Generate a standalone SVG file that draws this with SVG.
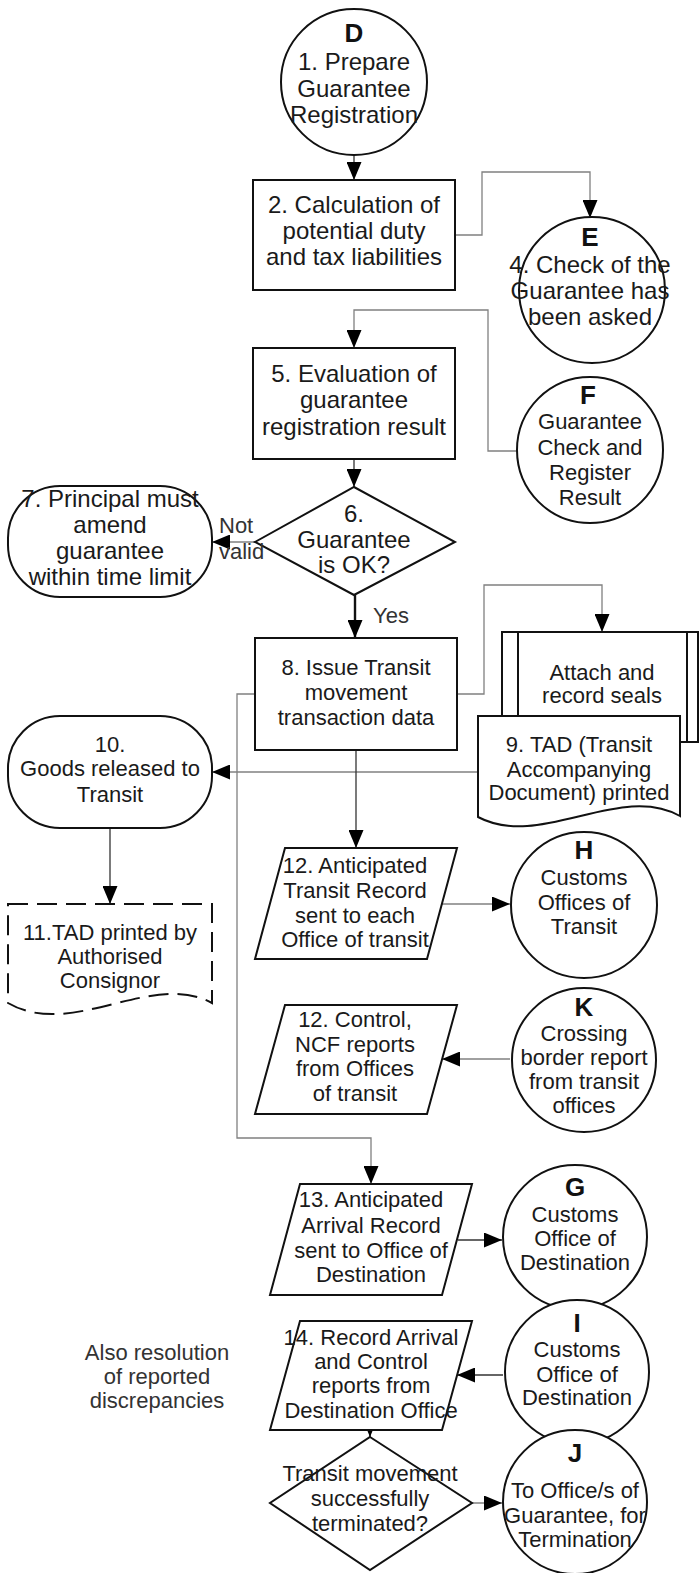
<svg xmlns="http://www.w3.org/2000/svg" width="699" height="1573" viewBox="0 0 699 1573">
<style>
text{font-family:"Liberation Sans",Arial,sans-serif;fill:#1a1a1a;text-anchor:middle}
.t24{font-size:24px}
.t22{font-size:22px}
.lbl{font-size:22px;fill:#333}
.big{font-size:26px;font-weight:bold;fill:#111}
.shp{fill:#fff;stroke:#111;stroke-width:2}
.dash{fill:#fff;stroke:#111;stroke-width:2;stroke-dasharray:20 9}
.cg{fill:none;stroke:#808080;stroke-width:1.3}
.cd{fill:none;stroke:#333;stroke-width:1.3}
.cb{fill:none;stroke:#111;stroke-width:2.4}
</style>
<defs>
<marker id="ah" viewBox="0 0 18 15" refX="18" refY="7.5" markerWidth="18" markerHeight="15" markerUnits="userSpaceOnUse" orient="auto"><path d="M0,0 L18,7.5 L0,15 z" fill="#000"/></marker>
</defs>
<rect width="699" height="1573" fill="#fff"/>

<g id="connectors">
<path class="cd" d="M354,133 V180" marker-end="url(#ah)"/>
<path class="cg" d="M455,235 H482 V172 H590 V218" marker-end="url(#ah)"/>
<path class="cg" d="M517,451 H488 V310 H354 V348" marker-end="url(#ah)"/>
<path class="cd" d="M354,440 V487" marker-end="url(#ah)"/>
<path class="cg" d="M255,542 H212" marker-end="url(#ah)"/>
<path class="cb" d="M355,595 V638" marker-end="url(#ah)"/>
<path class="cg" d="M457,694 H484 V585 H602 V632" marker-end="url(#ah)"/>
<path class="cg" d="M255,694 H237 V1138 H371 V1184" marker-end="url(#ah)"/>
<path class="cg" d="M478,772 H212" marker-end="url(#ah)"/>
<path class="cd" d="M110,828 V904" marker-end="url(#ah)"/>
<path class="cd" d="M356,750 V848" marker-end="url(#ah)"/>
<path class="cg" d="M442,904 H510" marker-end="url(#ah)"/>
<path class="cg" d="M510,1059 H442" marker-end="url(#ah)"/>
<path class="cd" d="M458,1240 H502" marker-end="url(#ah)"/>
<path class="cd" d="M503,1375 H457" marker-end="url(#ah)"/>
<path class="cd" d="M370,1395 V1455"/>
<path class="cd" d="M370,1400 V1437" marker-end="url(#ah)"/>
<path class="cg" d="M455,1503 H502" marker-end="url(#ah)"/>
</g>

<g id="nD">
<circle class="shp" cx="354" cy="82" r="73"/>
<text class="big" x="354" y="42">D</text>
<text class="t24" x="354" y="70">1. Prepare</text>
<text class="t24" x="354" y="96.5">Guarantee</text>
<text class="t24" x="354" y="123">Registration</text>
</g>

<g id="n2">
<rect class="shp" x="253" y="180" width="202" height="110"/>
<text class="t24" x="354" y="213">2. Calculation of</text>
<text class="t24" x="354" y="239">potential duty</text>
<text class="t24" x="354" y="265">and tax liabilities</text>
</g>

<g id="nE">
<circle class="shp" cx="592" cy="290" r="73"/>
<text class="big" x="590" y="246">E</text>
<text class="t24" x="590" y="273">4. Check of the</text>
<text class="t24" x="590" y="299">Guarantee has</text>
<text class="t24" x="590" y="325">been asked</text>
</g>

<g id="nF">
<circle class="shp" cx="590" cy="450" r="73"/>
<text class="big" x="588" y="404">F</text>
<text class="t22" x="590" y="429">Guarantee</text>
<text class="t22" x="590" y="455">Check and</text>
<text class="t22" x="590" y="480">Register</text>
<text class="t22" x="590" y="505">Result</text>
</g>

<g id="n5">
<rect class="shp" x="253" y="348" width="202" height="111"/>
<text class="t24" x="354" y="382">5. Evaluation of</text>
<text class="t24" x="354" y="408">guarantee</text>
<text class="t24" x="354" y="435">registration result</text>
</g>

<g id="n6">
<polygon class="shp" points="354,487 455,542 354,595 255,542"/>
<text class="t24" x="354" y="522">6.</text>
<text class="t24" x="354" y="548">Guarantee</text>
<text class="t24" x="354" y="573">is OK?</text>
</g>

<g id="n7">
<rect class="shp" x="8" y="486" width="204" height="111" rx="52" ry="52"/>
<text class="t24" x="110" y="507">7. Principal must</text>
<text class="t24" x="110" y="533">amend</text>
<text class="t24" x="110" y="559">guarantee</text>
<text class="t24" x="110" y="585">within time limit</text>
</g>

<g id="labels">
<text class="lbl" x="219" y="533" style="text-anchor:start">Not</text>
<text class="lbl" x="219" y="559" style="text-anchor:start">valid</text>
<text class="lbl" x="373" y="623" style="text-anchor:start">Yes</text>
<text class="lbl" x="157" y="1360">Also resolution</text>
<text class="lbl" x="157" y="1384">of reported</text>
<text class="lbl" x="157" y="1408">discrepancies</text>
</g>

<g id="n8">
<rect class="shp" x="255" y="638" width="202" height="112"/>
<text class="t22" x="356" y="675">8. Issue Transit</text>
<text class="t22" x="356" y="700">movement</text>
<text class="t22" x="356" y="725">transaction data</text>
</g>

<g id="nSeals">
<rect class="shp" x="502" y="632" width="196" height="110"/>
<line class="shp" x1="518" y1="632" x2="518" y2="742"/>
<line class="shp" x1="687" y1="632" x2="687" y2="742"/>
<text class="t22" x="602" y="680">Attach and</text>
<text class="t22" x="602" y="703">record seals</text>
</g>

<g id="n9">
<path class="shp" d="M478,716 H680 V816 C620,782 540,850 478,817 Z"/>
<text class="t22" x="579" y="752">9. TAD (Transit</text>
<text class="t22" x="579" y="777">Accompanying</text>
<text class="t22" x="579" y="800">Document) printed</text>
</g>

<g id="n10">
<rect class="shp" x="8" y="716" width="204" height="112" rx="52" ry="52"/>
<text class="t22" x="110" y="752">10.</text>
<text class="t22" x="110" y="776">Goods released to</text>
<text class="t22" x="110" y="802">Transit</text>
</g>

<g id="n11">
<path class="dash" d="M8,904 H212 V1003 C152,970 72,1040 8,1003 Z"/>
<text class="t22" x="110" y="940">11.TAD printed by</text>
<text class="t22" x="110" y="964">Authorised</text>
<text class="t22" x="110" y="988">Consignor</text>
</g>

<g id="n12a">
<polygon class="shp" points="285,848 457,848 427,959 255,959"/>
<text class="t22" x="355" y="873">12. Anticipated</text>
<text class="t22" x="355" y="898">Transit Record</text>
<text class="t22" x="355" y="923">sent to each</text>
<text class="t22" x="355" y="947">Office of transit</text>
</g>

<g id="nH">
<circle class="shp" cx="584" cy="905" r="73"/>
<text class="big" x="584" y="859">H</text>
<text class="t22" x="584" y="885">Customs</text>
<text class="t22" x="584" y="910">Offices of</text>
<text class="t22" x="584" y="934">Transit</text>
</g>

<g id="n12b">
<polygon class="shp" points="285,1005 457,1005 427,1114 255,1114"/>
<text class="t22" x="355" y="1027">12. Control,</text>
<text class="t22" x="355" y="1052">NCF reports</text>
<text class="t22" x="355" y="1076">from Offices</text>
<text class="t22" x="355" y="1101">of transit</text>
</g>

<g id="nK">
<circle class="shp" cx="584" cy="1060" r="72"/>
<text class="big" x="584" y="1016">K</text>
<text class="t22" x="584" y="1041">Crossing</text>
<text class="t22" x="584" y="1065">border report</text>
<text class="t22" x="584" y="1089">from transit</text>
<text class="t22" x="584" y="1113">offices</text>
</g>

<g id="n13">
<polygon class="shp" points="300,1184 472,1184 442,1295 270,1295"/>
<text class="t22" x="371" y="1207">13. Anticipated</text>
<text class="t22" x="371" y="1233">Arrival Record</text>
<text class="t22" x="371" y="1258">sent to Office of</text>
<text class="t22" x="371" y="1282">Destination</text>
</g>

<g id="nG">
<circle class="shp" cx="575" cy="1237" r="72"/>
<text class="big" x="575" y="1196">G</text>
<text class="t22" x="575" y="1222">Customs</text>
<text class="t22" x="575" y="1246">Office of</text>
<text class="t22" x="575" y="1270">Destination</text>
</g>

<g id="nI">
<circle class="shp" cx="577" cy="1372" r="72"/>
<text class="big" x="577" y="1332">I</text>
<text class="t22" x="577" y="1357">Customs</text>
<text class="t22" x="577" y="1382">Office of</text>
<text class="t22" x="577" y="1405">Destination</text>
</g>

<g id="n14">
<polygon class="shp" points="300,1321 472,1321 442,1430 270,1430"/>
<text class="t22" x="371" y="1345">14. Record Arrival</text>
<text class="t22" x="371" y="1369">and Control</text>
<text class="t22" x="371" y="1393">reports from</text>
<text class="t22" x="371" y="1418">Destination Office</text>
</g>

<g id="n15">
<polygon class="shp" points="370,1437 472,1503 370,1570 270,1503"/>
<text class="t22" x="370" y="1481">Transit movement</text>
<text class="t22" x="370" y="1506">successfully</text>
<text class="t22" x="370" y="1531">terminated?</text>
</g>

<g id="nJ">
<circle class="shp" cx="575" cy="1502" r="72"/>
<text class="big" x="575" y="1462">J</text>
<text class="t22" x="575" y="1498">To Office/s of</text>
<text class="t22" x="575" y="1523">Guarantee, for</text>
<text class="t22" x="575" y="1547">Termination</text>
</g>
</svg>
